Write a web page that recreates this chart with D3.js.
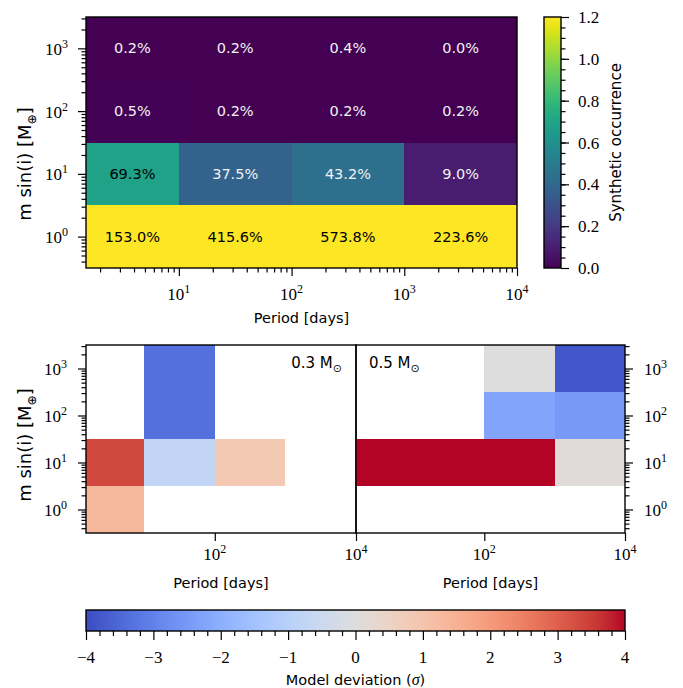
<!DOCTYPE html>
<html>
<head>
<meta charset="utf-8">
<script src="https://cdn.jsdelivr.net/npm/d3@7"></script>
<style>
  body { margin: 0; background: #fff; }
  svg { display: block; }
</style>
</head>
<body>
<svg id="fig" width="683" height="688"></svg>
<script>
// ---- data -------------------------------------------------------------
// Bin edges (period in days, minimum mass in Earth masses)
const periodEdges = [1.5, 10, 100, 1000, 10000];
const massEdges = [0.316, 3.16, 31.6, 316, 3162];

// Synthetic occurrence in percent, one row per mass bin (low -> high mass)
const occurrenceRows = [
  [153.0, 415.6, 573.8, 223.6],
  [69.3, 37.5, 43.2, 9.0],
  [0.5, 0.2, 0.2, 0.2],
  [0.2, 0.2, 0.4, 0.0]
];

// Model deviation in sigma, 0.3 and 0.5 solar-mass hosts (null = no data)
const deviation03 = [
  [1.3, null, null, null],
  [3.35, -0.75, 0.85, null],
  [null, -3.35, null, null],
  [null, -3.35, null, null]
];
const deviation05 = [
  [null, null, null, null],
  [4.0, 4.0, 4.0, 0.1],
  [null, null, -2.25, -2.5],
  [null, null, 0.0, -3.8]
];

const hostLabels = ["0.3", "0.5"];
const massTicks = [1, 10, 100, 1000];
const topPeriodTicks = [10, 100, 1000, 10000];
const bottomPeriodTicks = [100, 10000];
const occurrenceTicks = [0, 0.2, 0.4, 0.6, 0.8, 1.0, 1.2];
const deviationTicks = [-4, -3, -2, -1, 0, 1, 2, 3, 4];

// Diverging blue-grey-red colour ramp
const coolwarmStops = [
  "rgb(59,76,192)", "rgb(68,90,204)", "rgb(77,104,215)", "rgb(87,117,225)",
  "rgb(98,130,234)", "rgb(108,142,241)", "rgb(119,154,247)", "rgb(130,165,251)",
  "rgb(141,176,254)", "rgb(152,185,255)", "rgb(163,194,255)", "rgb(174,201,253)",
  "rgb(184,208,249)", "rgb(194,213,244)", "rgb(204,217,238)", "rgb(213,219,230)",
  "rgb(221,221,221)", "rgb(229,216,209)", "rgb(236,211,197)", "rgb(241,204,185)",
  "rgb(245,196,173)", "rgb(247,187,160)", "rgb(247,177,148)", "rgb(247,166,135)",
  "rgb(244,154,123)", "rgb(241,141,111)", "rgb(236,127,99)", "rgb(229,112,88)",
  "rgb(222,96,77)", "rgb(213,80,66)", "rgb(203,62,56)", "rgb(192,40,47)",
  "rgb(180,4,38)"
];

// ---- helpers ------------------------------------------------------------
const svg = d3.select("#fig");
const defs = svg.append("defs");
const SANS = "'DejaVu Sans', sans-serif";
const SERIF = "'Liberation Serif', serif";
const MAJOR = 8, MINOR = 4.5;

const viridis = d3.scaleSequential(d3.interpolateViridis).domain([0, 1.2]).clamp(true);
const coolwarm = d3.scaleSequential(d3.piecewise(d3.interpolateRgb, coolwarmStops))
  .domain([-4, 4]).clamp(true);

function logMinors(domain) {
  const out = [];
  const lo = Math.floor(Math.log10(domain[0])), hi = Math.ceil(Math.log10(domain[1]));
  for (let e = lo; e <= hi; e++) {
    for (let m = 2; m <= 9; m++) {
      const v = m * Math.pow(10, e);
      if (v >= domain[0] && v <= domain[1]) out.push(v);
    }
  }
  return out;
}

function ticks(g, axisGen, values, size) {
  g.call(axisGen.tickValues(values).tickSize(size).tickFormat(""));
  g.select(".domain").remove();
  g.selectAll(".tick line").attr("stroke", "#000").attr("stroke-width", 1.2);
}

function powLabel(g, x, y, exp, anchor) {
  const t = g.append("text")
    .attr("x", x).attr("y", y)
    .attr("text-anchor", anchor)
    .attr("font-family", SERIF).attr("font-size", 17).attr("fill", "#000");
  t.append("tspan").text("10");
  t.append("tspan").attr("dy", -7).attr("font-size", 12).text(exp);
}

function massLabel(g, x, y, size) {
  const t = g.append("text")
    .attr("transform", `translate(${x},${y}) rotate(-90)`)
    .attr("text-anchor", "middle")
    .attr("font-family", SANS).attr("font-size", size).attr("fill", "#000");
  t.append("tspan").text("m sin(i) [M");
  t.append("tspan").attr("dy", size * 0.25).attr("font-size", size * 0.68).text("\u2295");
  t.append("tspan").attr("dy", -size * 0.25).text("]");
}

function periodLabel(g, x, y) {
  g.append("text").attr("x", x).attr("y", y)
    .attr("text-anchor", "middle")
    .attr("font-family", SANS).attr("font-size", 14.5).attr("fill", "#000")
    .text("Period [days]");
}

function drawCells(g, x, y, rows, colour) {
  rows.forEach((row, i) => {
    row.forEach((v, j) => {
      if (v === null) return;
      g.append("rect")
        .attr("x", x(periodEdges[j]))
        .attr("y", y(massEdges[i + 1]))
        .attr("width", x(periodEdges[j + 1]) - x(periodEdges[j]))
        .attr("height", y(massEdges[i]) - y(massEdges[i + 1]))
        .attr("fill", colour(v))
        .attr("shape-rendering", "crispEdges");
    });
  });
}

// gradient sampled from a colour scale; vertical runs bottom -> top
function gradient(id, scale, vertical) {
  const [d0, d1] = scale.domain();
  const grad = defs.append("linearGradient").attr("id", id)
    .attr("x1", 0).attr("y1", vertical ? 1 : 0)
    .attr("x2", vertical ? 0 : 1).attr("y2", 0);
  d3.range(0, 1.0001, 0.02).forEach(f => {
    grad.append("stop").attr("offset", f).attr("stop-color", scale(d0 + f * (d1 - d0)));
  });
  return `url(#${id})`;
}

// ---- top panel: synthetic occurrence -------------------------------------
const P = { l: 86, r: 517, t: 17, b: 268 };
const xTop = d3.scaleLog().domain([periodEdges[0], periodEdges[4]]).range([P.l, P.r]);
const yTop = d3.scaleLog().domain([massEdges[0], massEdges[4]]).range([P.b, P.t]);

const gTop = svg.append("g");
drawCells(gTop, xTop, yTop, occurrenceRows, v => viridis(v / 100));

occurrenceRows.forEach((row, i) => {
  row.forEach((v, j) => {
    const cx = (xTop(periodEdges[j]) + xTop(periodEdges[j + 1])) / 2;
    const cy = (yTop(massEdges[i]) + yTop(massEdges[i + 1])) / 2;
    gTop.append("text")
      .attr("x", cx).attr("y", cy + 5)
      .attr("text-anchor", "middle")
      .attr("font-family", SANS).attr("font-size", 14.5)
      .attr("fill", v / 100 > 0.6 ? "#000" : "#f2f2f2")
      .text(d3.format(".1f")(v) + "%");
  });
});

gTop.append("rect")
  .attr("x", P.l).attr("y", P.t).attr("width", P.r - P.l).attr("height", P.b - P.t)
  .attr("fill", "none").attr("stroke", "#000").attr("stroke-width", 1.4);

const gTopX = svg.append("g").attr("transform", `translate(0,${P.b})`);
ticks(gTopX.append("g"), d3.axisBottom(xTop), topPeriodTicks, MAJOR);
ticks(gTopX.append("g"), d3.axisBottom(xTop), logMinors(xTop.domain()), MINOR);
topPeriodTicks.forEach(v => powLabel(svg, xTop(v), 300, Math.round(Math.log10(v)), "middle"));

const gTopY = svg.append("g").attr("transform", `translate(${P.l},0)`);
ticks(gTopY.append("g"), d3.axisLeft(yTop), massTicks, MAJOR);
ticks(gTopY.append("g"), d3.axisLeft(yTop), logMinors(yTop.domain()), MINOR);
massTicks.forEach(v => powLabel(svg, 68, yTop(v) + 6.5, Math.round(Math.log10(v)), "end"));

periodLabel(svg, (P.l + P.r) / 2, 323);
massLabel(svg, 31, 164, 18);

// occurrence colour bar
const CB = { l: 544, r: 561, t: 17, b: 268 };
const yCb = d3.scaleLinear().domain([0, 1.2]).range([CB.b, CB.t]);
svg.append("rect")
  .attr("x", CB.l).attr("y", CB.t).attr("width", CB.r - CB.l).attr("height", CB.b - CB.t)
  .attr("fill", gradient("occGrad", viridis, true))
  .attr("stroke", "#000").attr("stroke-width", 1.4);
const gCbY = svg.append("g").attr("transform", `translate(${CB.r},0)`);
ticks(gCbY.append("g"), d3.axisRight(yCb), occurrenceTicks, MAJOR);
ticks(gCbY.append("g"), d3.axisRight(yCb), d3.range(0.05, 1.2, 0.05), MINOR);
occurrenceTicks.forEach(v => {
  svg.append("text").attr("x", 578).attr("y", yCb(v) + 6)
    .attr("font-family", SERIF).attr("font-size", 17).attr("fill", "#000")
    .text(d3.format(".1f")(v));
});
svg.append("text")
  .attr("transform", `translate(621,${(CB.t + CB.b) / 2}) rotate(-90)`)
  .attr("text-anchor", "middle")
  .attr("font-family", SANS).attr("font-size", 15).attr("fill", "#000")
  .text("Synthetic occurrence");

// ---- bottom panels: model deviation --------------------------------------
const B = { t: 345, b: 533 };
const panels = [
  { l: 86, r: 356, rows: deviation03, host: hostLabels[0], side: "left" },
  { l: 356, r: 625, rows: deviation05, host: hostLabels[1], side: "right" }
];

panels.forEach(p => {
  const x = d3.scaleLog().domain([periodEdges[0], periodEdges[4]]).range([p.l, p.r]);
  const y = d3.scaleLog().domain([massEdges[0], massEdges[4]]).range([B.b, B.t]);
  const g = svg.append("g");
  drawCells(g, x, y, p.rows, coolwarm);
  g.append("rect")
    .attr("x", p.l).attr("y", B.t).attr("width", p.r - p.l).attr("height", B.b - B.t)
    .attr("fill", "none").attr("stroke", "#000").attr("stroke-width", 1.4);

  const gx = svg.append("g").attr("transform", `translate(0,${B.b})`);
  ticks(gx, d3.axisBottom(x), bottomPeriodTicks, MAJOR);
  bottomPeriodTicks.forEach(v => powLabel(svg, x(v), 560, Math.round(Math.log10(v)), "middle"));

  if (p.side === "left") {
    const gy = svg.append("g").attr("transform", `translate(${p.l},0)`);
    ticks(gy.append("g"), d3.axisLeft(y), massTicks, MAJOR);
    ticks(gy.append("g"), d3.axisLeft(y), logMinors(y.domain()), MINOR);
    massTicks.forEach(v => powLabel(svg, 67, y(v) + 6.5, Math.round(Math.log10(v)), "end"));
  } else {
    const gy = svg.append("g").attr("transform", `translate(${p.r},0)`);
    ticks(gy.append("g"), d3.axisRight(y), massTicks, MAJOR);
    ticks(gy.append("g"), d3.axisRight(y), logMinors(y.domain()), MINOR);
    massTicks.forEach(v => powLabel(svg, 644, y(v) + 6.5, Math.round(Math.log10(v)), "start"));
  }

  periodLabel(svg, (p.l + p.r) / 2, 588);

  const t = svg.append("text")
    .attr("x", p.side === "left" ? p.r - 14 : p.l + 13)
    .attr("y", 368)
    .attr("text-anchor", p.side === "left" ? "end" : "start")
    .attr("font-family", SANS).attr("font-size", 15).attr("fill", "#000");
  t.append("tspan").text(p.host + " M");
  t.append("tspan").attr("dy", 3.5).attr("font-size", 11).text("\u2299");
});

massLabel(svg, 31, 445, 18);

// deviation colour bar
const HB = { l: 86, r: 625, t: 610, b: 631 };
const xHb = d3.scaleLinear().domain([-4, 4]).range([HB.l, HB.r]);
svg.append("rect")
  .attr("x", HB.l).attr("y", HB.t).attr("width", HB.r - HB.l).attr("height", HB.b - HB.t)
  .attr("fill", gradient("devGrad", coolwarm, false))
  .attr("stroke", "#000").attr("stroke-width", 1.4);
const gHb = svg.append("g").attr("transform", `translate(0,${HB.b})`);
ticks(gHb.append("g"), d3.axisBottom(xHb), deviationTicks, 9);
ticks(gHb.append("g"), d3.axisBottom(xHb),
  d3.range(-4, 4.001, 0.2).filter(v => Math.abs(v - Math.round(v)) > 1e-6), 5);
deviationTicks.forEach(v => {
  svg.append("text").attr("x", xHb(v)).attr("y", 663)
    .attr("text-anchor", "middle")
    .attr("font-family", SERIF).attr("font-size", 17).attr("fill", "#000")
    .text(v < 0 ? "\u2212" + Math.abs(v) : String(v));
});
const dl = svg.append("text")
  .attr("x", (HB.l + HB.r) / 2).attr("y", 685)
  .attr("text-anchor", "middle")
  .attr("font-family", SANS).attr("font-size", 14.5).attr("fill", "#000");
dl.append("tspan").text("Model deviation (");
dl.append("tspan").attr("font-family", SERIF).attr("font-style", "italic").attr("font-size", 16).text("\u03c3");
dl.append("tspan").text(")");
</script>
</body>
</html>
